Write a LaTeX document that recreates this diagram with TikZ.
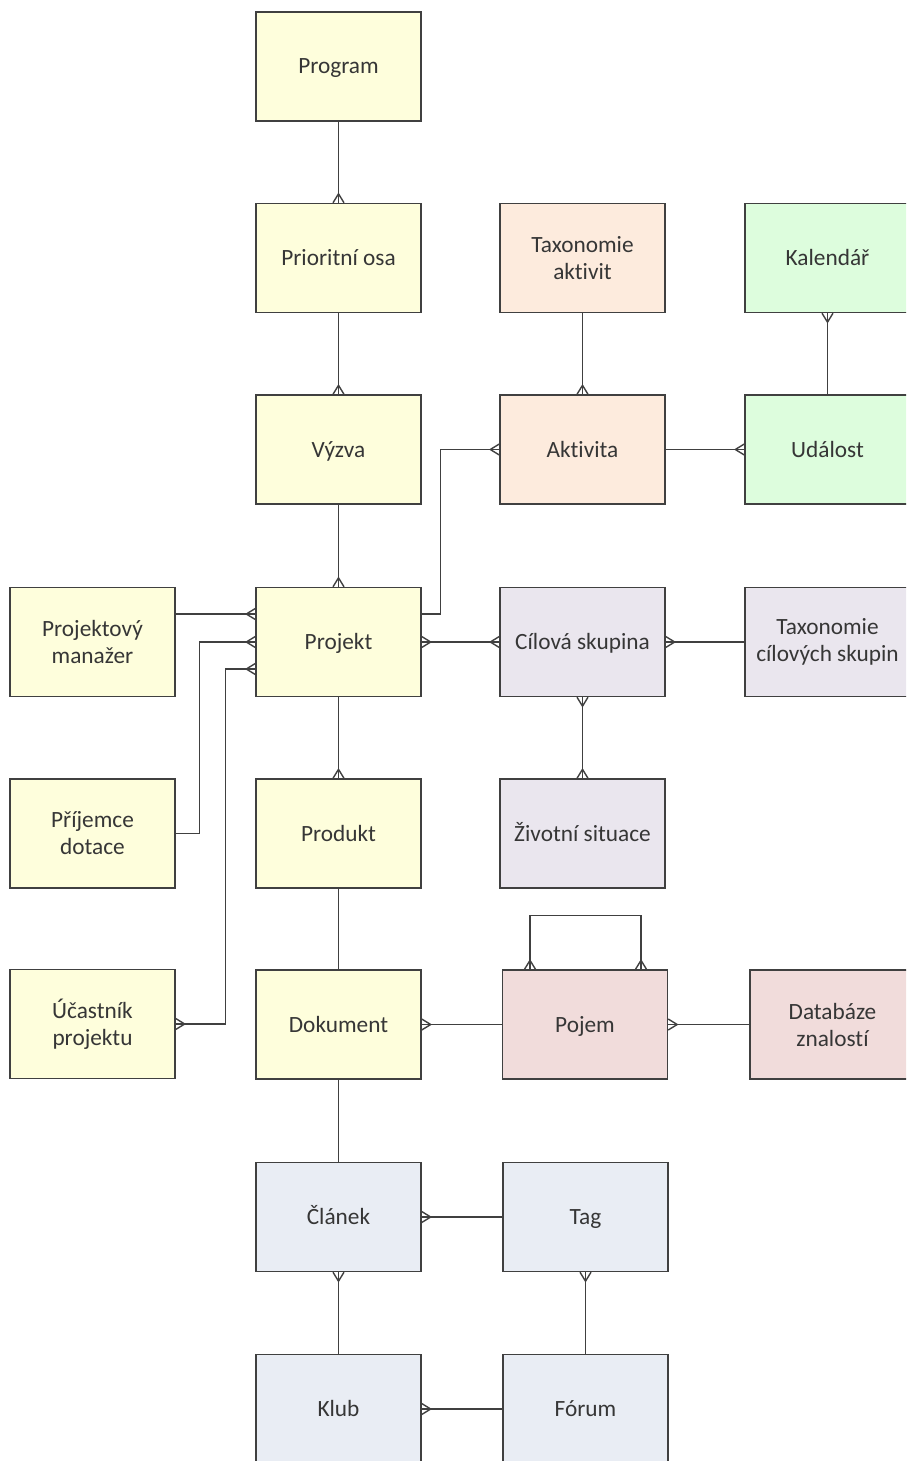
\documentclass[tikz,border=0pt]{standalone}
\usepackage{fontspec}
\setmainfont{Carlito}[Ligatures={NoCommon,NoRare}]
\usetikzlibrary{arrows.meta}

% crow's foot ("many") end of a relationship line
\pgfdeclarearrow{
  name = Crow,
  defaults = {length = 9pt, width = 11pt},
  setup code = {
    \pgfarrowssettipend{0pt}
    \pgfarrowssetlineend{0pt}
    \pgfarrowssetbackend{-\pgfarrowlength}
    \pgfarrowssetvisualbackend{-\pgfarrowlength}
    \pgfarrowshullpoint{0pt}{.5\pgfarrowwidth}
    \pgfarrowshullpoint{0pt}{-.5\pgfarrowwidth}
    \pgfarrowshullpoint{-\pgfarrowlength}{0pt}
    \pgfarrowssavethe\pgfarrowlength
    \pgfarrowssavethe\pgfarrowwidth
  },
  drawing code = {
    \pgfpathmoveto{\pgfqpoint{0pt}{.5\pgfarrowwidth}}
    \pgfpathlineto{\pgfqpoint{-\pgfarrowlength}{0pt}}
    \pgfpathlineto{\pgfqpoint{0pt}{-.5\pgfarrowwidth}}
    \pgfusepathqstroke
  },
  parameters = {\the\pgfarrowlength,\the\pgfarrowwidth},
}

\definecolor{edge}{HTML}{404040}
\definecolor{ink}{HTML}{363636}
\definecolor{cYellow}{HTML}{FEFEDC}
\definecolor{cPeach}{HTML}{FDEBDD}
\definecolor{cGreen}{HTML}{DDFDDD}
\definecolor{cLilac}{HTML}{EAE6EE}
\definecolor{cPink}{HTML}{F1DCDB}
\definecolor{cBlue}{HTML}{E9EDF4}

\tikzset{
  entity/.style={draw=edge, line width=1.4pt, minimum width=165pt, minimum height=109pt,
    inner sep=2pt, align=center, text=ink,
    font=\fontsize{23.3pt}{27pt}\selectfont},
  % one-line labels: centre the capitals in the box
  oneline/.style={text height=15pt, text depth=0pt},
  yel/.style={entity, fill=cYellow},
  pea/.style={entity, fill=cPeach},
  grn/.style={entity, fill=cGreen},
  lil/.style={entity, fill=cLilac},
  pnk/.style={entity, fill=cPink},
  blu/.style={entity, fill=cBlue},
  rel/.style={draw=edge, line width=1.4pt},
}

\begin{document}
\begin{tikzpicture}[x=1pt, y=-1pt]
\useasboundingbox (0,0) rectangle (906,1461);
\clip (0,0) rectangle (906,1461);

% main column
\node[yel,oneline] (Program)   at (338.5,66.5)  {Program};
\node[yel,oneline] (Osa)       at (338.5,258)   {Prioritní osa};
\node[yel,oneline] (Vyzva)     at (338.5,449.5) {Výzva};
\node[yel,oneline] (Projekt)   at (338.5,642)   {Projekt};
\node[yel,oneline] (Produkt)   at (338.5,833.5) {Produkt};
\node[yel,oneline] (Dokument)  at (338.5,1024.5){Dokument};
\node[blu,oneline] (Clanek)    at (338.5,1217)  {Článek};
\node[blu,oneline] (Klub)      at (338.5,1409)  {Klub};

% left column
\node[yel] (Manazer)   at (92.5,642)    {Projektový\\manažer};
\node[yel] (Prijemce)  at (92.5,833.5)  {Příjemce\\dotace};
\node[yel] (Ucastnik)  at (92.5,1024)   {Účastník\\projektu};

% third column
\node[pea] (TaxAkt)            at (582.5,258)   {Taxonomie\\aktivit};
\node[pea,oneline] (Aktivita)  at (582.5,449.5) {Aktivita};
\node[lil,oneline] (Cilova)    at (582.5,642)   {Cílová skupina};
\node[lil,oneline] (Situace)   at (582.5,833.5) {Životní situace};
\node[pnk,oneline] (Pojem)     at (585,1024.5)  {Pojem};
\node[blu,oneline] (Tag)       at (585.5,1217)  {Tag};
\node[blu,oneline] (Forum)     at (585.5,1409)  {Fórum};

% right column
\node[grn,oneline] (Kalendar)  at (827.5,258)   {Kalendář};
\node[grn,oneline] (Udalost)   at (827.5,449.5) {Událost};
\node[lil] (TaxCil)            at (827.5,642)   {Taxonomie\\cílových skupin};
\node[pnk] (Databaze)          at (832.5,1024.5){Databáze\\znalostí};

% relationships
\draw[rel,-Crow] (Program) -- (Osa.north);
\draw[rel,-Crow] (Osa) -- (Vyzva.north);
\draw[rel,-Crow] (Vyzva) -- (Projekt.north);
\draw[rel,-Crow] (Projekt) -- (Produkt.north);
\draw[rel] (Produkt) -- (Dokument);
\draw[rel] (Dokument) -- (Clanek);
\draw[rel,-Crow] (Klub.north) -- (Clanek.south);
\draw[rel,-Crow] (Forum.west) -- (Klub.east);
\draw[rel,-Crow] (Forum.north) -- (Tag.south);
\draw[rel,-Crow] (Tag.west) -- (Clanek.east);

\draw[rel,-Crow] ([yshift=28pt]Manazer.east) -- ([yshift=28pt]Projekt.west);
\draw[rel,-Crow] (Prijemce.east) -| ([xshift=-56pt]Projekt.west) -- (Projekt.west);
\draw[rel,Crow-Crow] (Ucastnik.east) -| ([xshift=-30pt,yshift=-27pt]Projekt.west) -- ([yshift=-27pt]Projekt.west);

\draw[rel,-Crow] ([yshift=28pt]Projekt.east) -| ([xshift=-59pt]Aktivita.west) -- (Aktivita.west);
\draw[rel,-Crow] (TaxAkt) -- (Aktivita.north);
\draw[rel,-Crow] (Aktivita.east) -- (Udalost.west);
\draw[rel,-Crow] (Udalost.north) -- (Kalendar.south);

\draw[rel,Crow-Crow] (Projekt.east) -- (Cilova.west);
\draw[rel,-Crow] (TaxCil.west) -- (Cilova.east);
\draw[rel,Crow-Crow] (Cilova.south) -- (Situace.north);

\draw[rel,-Crow] (Pojem.west) -- (Dokument.east);
\draw[rel,-Crow] (Databaze.west) -- (Pojem.east);
\draw[rel,Crow-Crow] ([xshift=-55pt]Pojem.north) -- ++(0,-54) -| ([xshift=56pt]Pojem.north);
\end{tikzpicture}
\end{document}
